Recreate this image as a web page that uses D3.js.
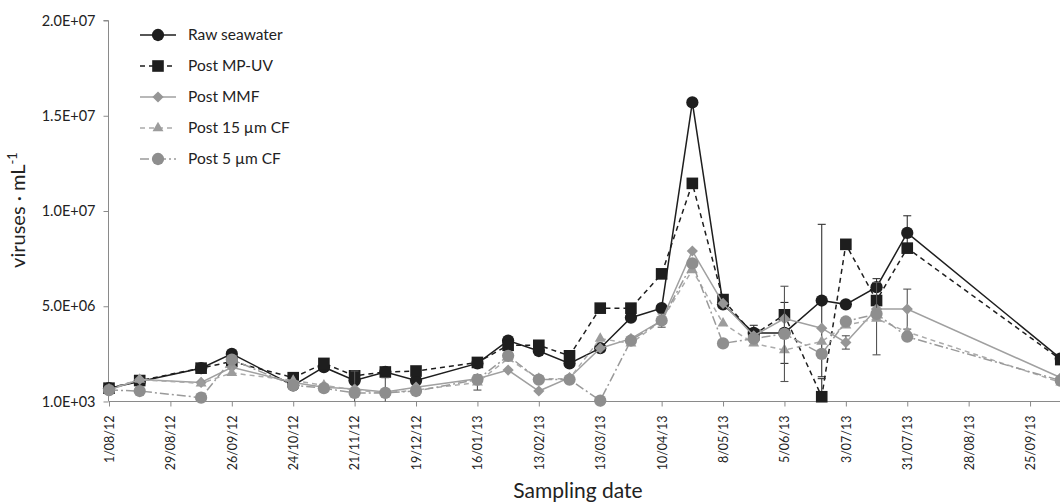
<!DOCTYPE html>
<html>
<head>
<meta charset="utf-8">
<script src="https://cdn.jsdelivr.net/npm/d3@7"></script>
<style>
  body { margin: 0; background: #fff; }
  svg { font-family: Lato, "Open Sans", sans-serif; }
</style>
</head>
<body>
<div id="chart"></div>
<script>
// sampling dates (d/m/y)
var sampleDates = ["1/08/12", "15/08/12", "12/09/12", "26/09/12", "24/10/12", "7/11/12", "21/11/12", "5/12/12",
  "19/12/12", "16/01/13", "30/01/13", "13/02/13", "27/02/13", "13/03/13", "27/03/13", "10/04/13", "24/04/13",
  "8/05/13", "22/05/13", "5/06/13", "22/06/13", "3/07/13", "17/07/13", "31/07/13", "9/10/13"];

// virus counts, millions per mL
var rawSeawater = [0.7, 1.05, 1.75, 2.5, 0.85, 1.8, 1.1, 1.55, 1.1, 2.0, 3.2, 2.65, 2.0, 2.8, 4.4, 4.9, 15.7, 5.1, 3.6, 3.6, 5.3, 5.1, 6.0, 8.85, 2.25];
var postMPUV    = [0.7, 1.1, 1.75, 2.1, 1.25, 2.0, 1.35, 1.55, 1.6, 2.05, 2.95, 2.95, 2.4, 4.9, 4.9, 6.7, 11.45, 5.35, 3.5, 4.55, 0.25, 8.25, 5.3, 8.05, 2.2];
var postMMF     = [0.6, 1.15, 1.0, 1.8, 1.0, 0.75, 0.65, 0.5, 0.75, 1.2, 1.65, 0.55, 1.25, 2.8, 3.3, 4.25, 7.9, 5.15, 3.45, 4.35, 3.85, 3.1, 4.85, 4.85, 1.25];
var post15CF    = [0.65, 1.15, 0.95, 1.5, 1.1, 0.85, 0.6, 0.45, 0.6, 1.0, 2.25, 1.2, 1.2, 3.3, 3.05, 4.25, 6.9, 4.1, 3.05, 2.7, 3.15, 4.0, 4.35, 3.65, 1.0];
var post5CF     = [0.6, 0.55, 0.2, 2.2, 0.85, 0.7, 0.45, 0.45, 0.55, 1.15, 2.4, 1.15, 1.15, 0.05, 3.2, 4.25, 7.25, 3.05, 3.3, 3.55, 2.5, 4.2, 4.6, 3.4, 1.1];

// standard deviations (millions), 0 = no bar
var errRaw  = [0, 0, 0, 0, 0, 0, 0, 0, 0, 0, 0, 0, 0, 0, 0, 0, 0, 0, 0.4, 1.6, 4.0, 0, 0.45, 0.9, 0];
var errMPUV = [0, 0, 0, 0, 0, 0, 0, 0, 0, 0, 0, 0, 0, 0, 0, 0, 0, 0, 0, 0, 0.95, 0, 0, 0, 0];
var errMMF  = [0, 0, 0, 0, 0, 0, 0, 0, 0, 0, 0, 0, 0, 0, 0, 0, 0, 0, 0, 0, 0, 0.35, 0, 1.05, 0];
var err15CF = [0, 0, 0, 0, 0, 0, 1.0, 0.8, 0, 0.4, 0, 0, 0, 0, 0, 0.35, 0, 0, 0, 0, 0, 0, 1.9, 0, 0];
var err5CF  = [0, 0, 0, 0, 0, 0, 0, 0, 0, 0, 0, 0, 0, 0, 0, 0, 0, 0, 0, 2.5, 0, 0, 0, 0, 0];

var seriesNames = ["Raw seawater", "Post MP-UV", "Post MMF", "Post 15 \u00b5m CF", "Post 5 \u00b5m CF"];
var yTickValues = [1000, 5e6, 1e7, 1.5e7, 2e7];
var yTickLabels = ["1.0E+03", "5.0E+06", "1.0E+07", "1.5E+07", "2.0E+07"];

var parseDate = d3.timeParse("%d/%m/%y");
var fmtDate = d3.timeFormat("%-d/%m/%y");

var width = 1060, height = 504;
var svg = d3.select("#chart").append("svg")
  .attr("width", width)
  .attr("height", height);

// scales
var x = d3.scaleTime()
  .domain([parseDate("1/08/12"), parseDate("12/10/13")])
  .range([109, 109 + 437 * 2.193]);
var y = d3.scaleLinear()
  .domain([0, 2e7])
  .range([401.5, 20.5]);

// a tick every 4 weeks from the first sample
var xTicks = d3.range(0, 16).map(function(i) { return d3.timeDay.offset(parseDate("1/08/12"), i * 28); });

// series styling
var series = [
  {name: seriesNames[0], vals: rawSeawater, err: errRaw, color: "#1e1e1e", mcolor: "#1e1e1e", ecolor: "#333", dash: null, shape: "circle"},
  {name: seriesNames[1], vals: postMPUV, err: errMPUV, color: "#1e1e1e", mcolor: "#1e1e1e", ecolor: "#333", dash: "5,4", shape: "square"},
  {name: seriesNames[2], vals: postMMF, err: errMMF, color: "#a0a0a0", mcolor: "#969696", ecolor: "#555", dash: null, shape: "diamond"},
  {name: seriesNames[3], vals: post15CF, err: err15CF, color: "#ababab", mcolor: "#9c9c9c", ecolor: "#555", dash: "5,4", shape: "triangle"},
  {name: seriesNames[4], vals: post5CF, err: err5CF, color: "#9a9a9a", mcolor: "#8e8e8e", ecolor: "#555", dash: "9,3,2,3", shape: "circle"}
];

var symbolOf = {
  circle: d3.symbol().type(d3.symbolCircle).size(118),
  square: d3.symbol().type(d3.symbolSquare).size(135),
  diamond: d3.symbol().type(d3.symbolDiamond2).size(80),
  triangle: d3.symbol().type(d3.symbolTriangle2).size(85)
};

// y axis
var yAxis = svg.append("g")
  .attr("transform", "translate(108.5,0)")
  .call(d3.axisLeft(y).tickValues(yTickValues).tickSize(5).tickPadding(8)
    .tickFormat(function(d, i) { return yTickLabels[i]; }));
yAxis.selectAll("path, line").attr("stroke", "#8a8a8a");
yAxis.select(".domain").attr("d", "M-5," + y(2e7) + "H0V" + y(0));
yAxis.selectAll("text").attr("font-size", 14.5).attr("fill", "#222").attr("font-family", "Lato, sans-serif");

// x axis
var xAxis = svg.append("g")
  .attr("transform", "translate(0," + y(0) + ")")
  .call(d3.axisBottom(x).tickValues(xTicks).tickSize(5).tickFormat(fmtDate));
xAxis.selectAll("path, line").attr("stroke", "#8a8a8a");
xAxis.select(".domain").attr("d", "M109,0H" + width);
xAxis.selectAll("text")
  .attr("font-size", 12.5)
  .attr("font-family", "Lato, sans-serif")
  .attr("fill", "#222")
  .attr("text-anchor", "end")
  .attr("transform", "rotate(-90)")
  .attr("x", -14)
  .attr("y", 0)
  .attr("dy", "0.35em");

// axis titles
var yTitle = svg.append("text")
  .attr("transform", "translate(25,210) rotate(-90)")
  .attr("text-anchor", "middle")
  .attr("font-size", 20)
  .attr("fill", "#222");
yTitle.append("tspan").text("viruses \u00b7 mL");
yTitle.append("tspan").attr("dy", -8).attr("font-size", 13).text("-1");

svg.append("text")
  .attr("x", 578)
  .attr("y", 498)
  .attr("text-anchor", "middle")
  .attr("font-size", 21)
  .attr("fill", "#222")
  .text("Sampling date");

// data lines, bars and markers, series by series
var dates = sampleDates.map(parseDate);
var line = d3.line()
  .x(function(d, i) { return x(dates[i]); })
  .y(function(d) { return y(d * 1e6); });

series.forEach(function(s) {
  var g = svg.append("g");
  g.append("path")
    .attr("d", line(s.vals))
    .attr("fill", "none")
    .attr("stroke", s.color)
    .attr("stroke-width", 1.5)
    .attr("stroke-dasharray", s.dash);

  var bars = s.vals.map(function(v, i) { return {v: v, sd: s.err[i], d: dates[i]}; })
    .filter(function(b) { return b.sd > 0; });
  var eb = g.selectAll(".eb").data(bars).enter().append("g")
    .attr("stroke", s.ecolor)
    .attr("stroke-width", 1.1);
  eb.append("line")
    .attr("x1", function(b) { return x(b.d); }).attr("x2", function(b) { return x(b.d); })
    .attr("y1", function(b) { return y((b.v + b.sd) * 1e6); })
    .attr("y2", function(b) { return y(Math.max(0, b.v - b.sd) * 1e6); });
  eb.append("line")
    .attr("x1", function(b) { return x(b.d) - 4; }).attr("x2", function(b) { return x(b.d) + 4; })
    .attr("y1", function(b) { return y((b.v + b.sd) * 1e6); })
    .attr("y2", function(b) { return y((b.v + b.sd) * 1e6); });
  eb.filter(function(b) { return b.v - b.sd > 0; }).append("line")
    .attr("x1", function(b) { return x(b.d) - 4; }).attr("x2", function(b) { return x(b.d) + 4; })
    .attr("y1", function(b) { return y((b.v - b.sd) * 1e6); })
    .attr("y2", function(b) { return y((b.v - b.sd) * 1e6); });

  g.selectAll(".mk").data(s.vals).enter().append("path")
    .attr("d", symbolOf[s.shape])
    .attr("transform", function(d, i) { return "translate(" + x(dates[i]) + "," + y(d * 1e6) + ")"; })
    .attr("fill", s.mcolor);
});

// legend
var legend = svg.append("g");
series.forEach(function(s, i) {
  var ly = 35 + i * 31;
  legend.append("line")
    .attr("x1", 140).attr("x2", 176)
    .attr("y1", ly).attr("y2", ly)
    .attr("stroke", s.color)
    .attr("stroke-width", 1.5)
    .attr("stroke-dasharray", s.dash);
  legend.append("path")
    .attr("d", symbolOf[s.shape])
    .attr("transform", "translate(158," + ly + ")")
    .attr("fill", s.mcolor);
  legend.append("text")
    .attr("x", 188)
    .attr("y", ly)
    .attr("dy", "0.35em")
    .attr("font-size", 15.5)
    .attr("fill", "#222")
    .text(s.name);
});
</script>
</body>
</html>
